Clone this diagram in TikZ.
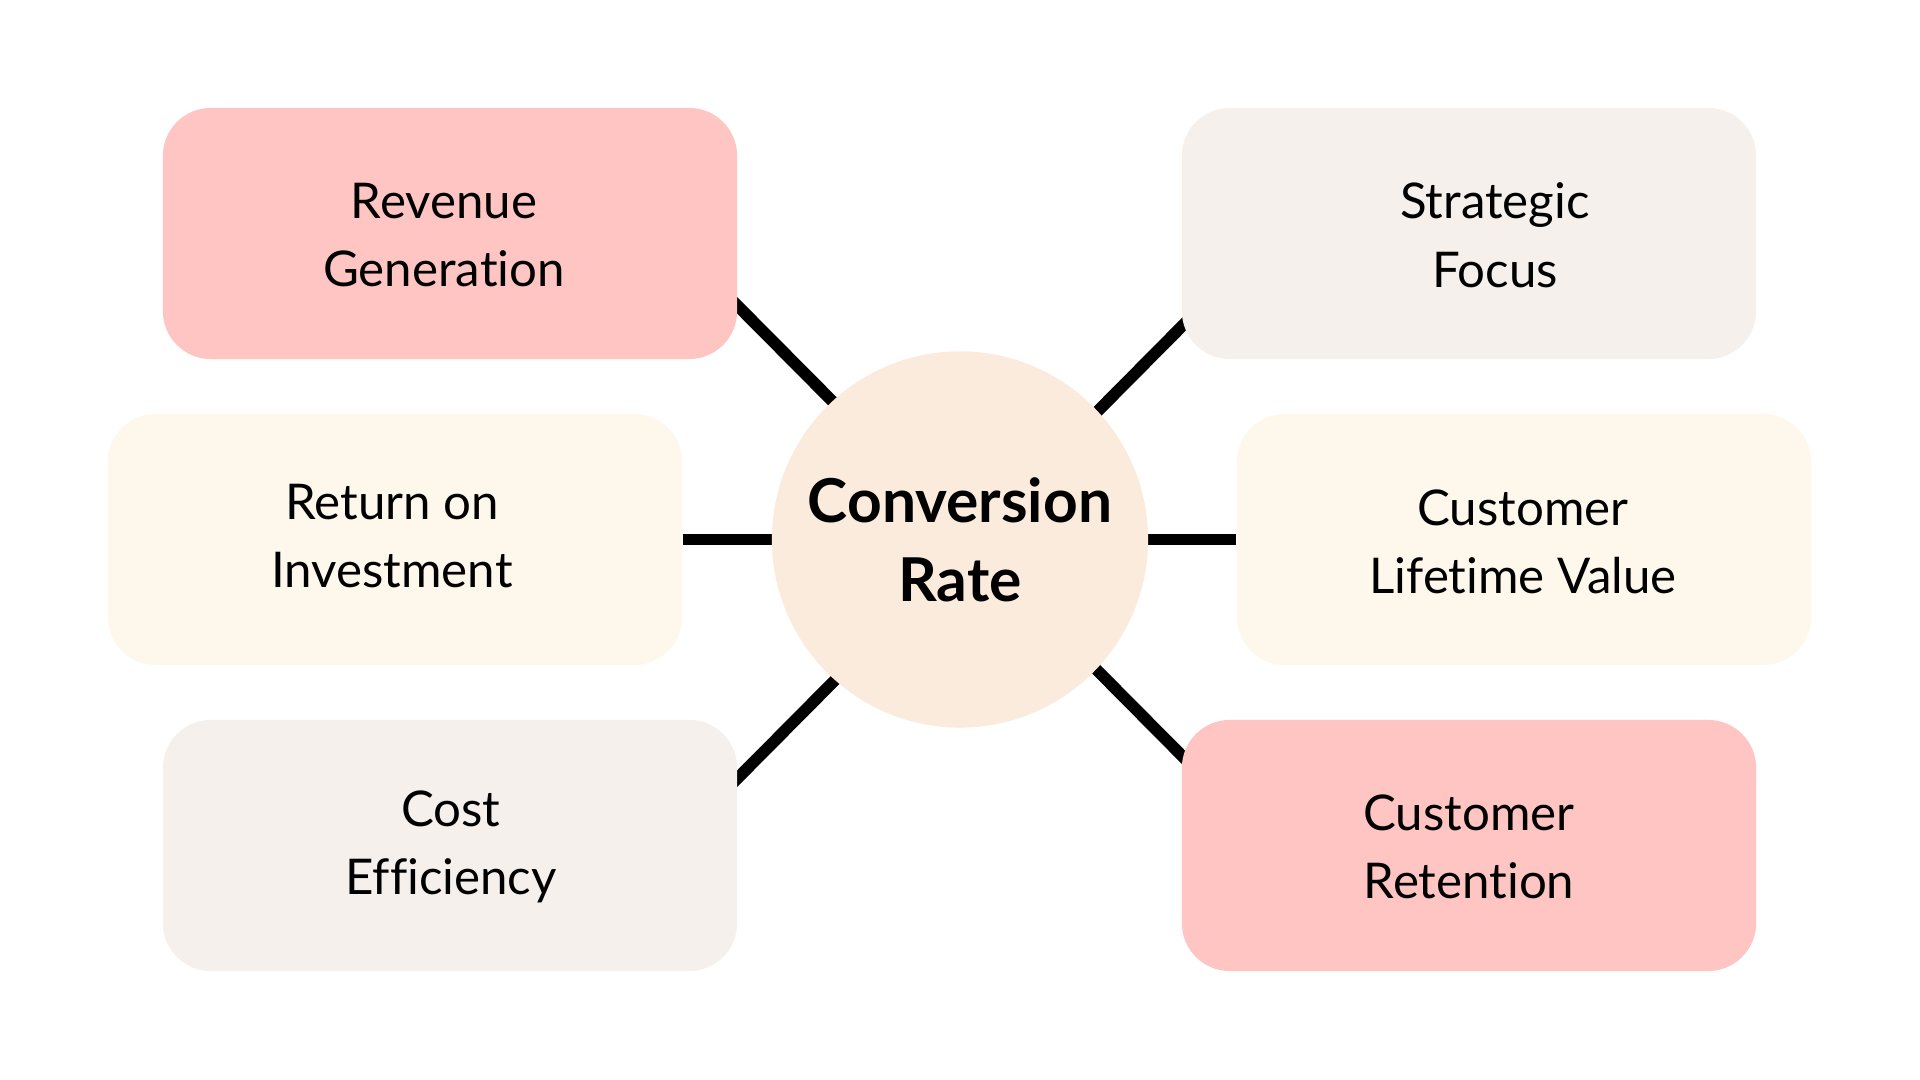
\documentclass[tikz,border=0pt]{standalone}
\usepackage{fontspec}
\setmainfont[Ligatures={NoCommon}]{Lato}
\usetikzlibrary{calc}
\pgfdeclarelayer{bg}
\pgfsetlayers{bg,main}
\definecolor{pinkc}{RGB}{255,197,194}
\definecolor{greyc}{RGB}{245,240,236}
\definecolor{creamc}{RGB}{254,248,236}
\definecolor{circc}{RGB}{250,235,221}
\tikzset{
  box/.style={rectangle, rounded corners=0.48cm, minimum width=5.74cm, minimum height=2.51cm, inner sep=0pt, draw=none},
  lbl/.style={align=center, font=\fontsize{14pt}{19.5pt}\selectfont, inner sep=0pt},
  conn/.style={line width=0.117cm, black},
}
\begin{document}
\begin{tikzpicture}[x=0.01cm, y=-0.01cm]
\useasboundingbox (0,0) rectangle (1920,1080);
% boxes
\node[box, fill=pinkc] (rev) at (450,233.5) {};
\node[box, fill=greyc] (str) at (1469,233.5) {};
\node[box, fill=creamc] (roi) at (395,539.5) {};
\node[box, fill=creamc] (clv) at (1524,539.5) {};
\node[box, fill=greyc] (cost) at (450,845.5) {};
\node[box, fill=pinkc] (ret) at (1469,845.5) {};
% center circle
\node[circle, fill=circc, minimum size=3.76cm, inner sep=0pt, align=center,
      font=\bfseries\fontsize{17.2pt}{22.4pt}\selectfont] (cr) at (960,539.5) {Conversion\\Rate};
% labels
\node[lbl] (trev) at (444,235) {Revenue\\Generation};
\node[lbl] (tstr) at (1495,235) {Strategic\\Focus};
\node[lbl] (troi) at (392,536) {Return on\\Investment};
\node[lbl] (tclv) at (1523,542) {Customer\\Lifetime Value};
\node[lbl] (tcost) at (451,847) {Cost\\Efficiency};
\node[lbl] (tret) at (1469,847) {Customer\\Retention};
% connectors
\begin{pgfonlayer}{bg}
\fill[white] (0,0) rectangle (1920,1080);
\draw[conn] ($(rev.east)+(-8,64.5)$) -- ($(cr.center)+(-110,-120.5)$);
\draw[conn] ($(str.west)+(8,85.5)$) -- ($(cr.center)+(120,-110.5)$);
\draw[conn] (roi.east) -- (cr.center);
\draw[conn] (cr.center) -- (clv.west);
\draw[conn] ($(cost.east)+(-8,-59.5)$) -- ($(cr.center)+(-110,125.5)$);
\draw[conn] ($(ret.west)+(8,-82.5)$) -- ($(cr.center)+(120,113.5)$);
\end{pgfonlayer}
\end{tikzpicture}
\end{document}
